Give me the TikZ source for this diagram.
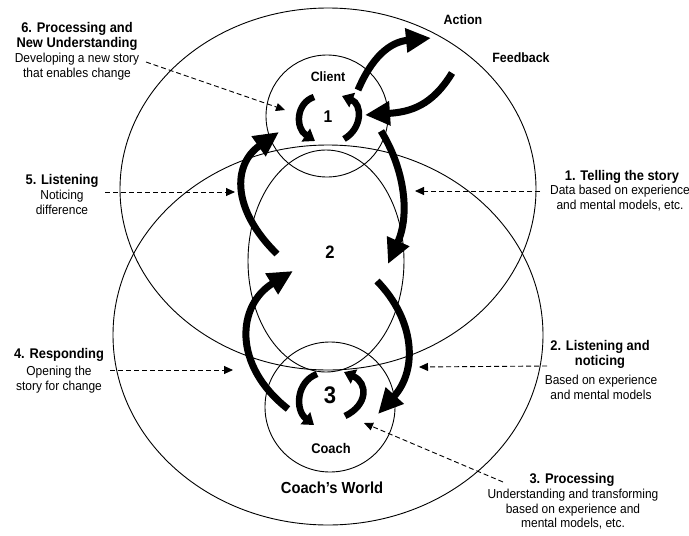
\documentclass[tikz,border=0pt]{standalone}
\usepackage{fontspec}
\setmainfont{Liberation Sans}[FakeStretch=0.92]
\usetikzlibrary{arrows.meta}
\begin{document}
\begin{tikzpicture}[x=1pt,y=-1pt,
  ring/.style={line width=0.9pt},
  flow/.style={line width=7pt, -{Triangle[length=25pt,width=23pt]}},
  spin/.style={line width=6.5pt, -{Triangle[length=11pt,width=15pt]}},
  hint/.style={line width=0.9pt, dash pattern=on 5pt off 3pt, -{Triangle[length=9pt,width=8pt]}},
  head/.style={font=\fontsize{14}{15.5}\selectfont\bfseries, align=center, inner sep=0pt, anchor=north},
  sub/.style={font=\fontsize{13}{14.5}\selectfont, align=center, inner sep=0pt, anchor=north},
  lbl/.style={font=\fontsize{13.5}{15}\selectfont\bfseries, inner sep=0pt, anchor=north},
  num/.style={inner sep=0pt}]
\fill[white] (0,0) rectangle (689,536);
\useasboundingbox (0,0) rectangle (689,536);

% worlds and circles
\draw[ring] (328,189) ellipse [x radius=208pt, y radius=181pt];
\draw[ring] (328,335) ellipse [x radius=215pt, y radius=190pt];
\draw[ring] (327,116) circle [radius=61pt];
\draw[ring] (326,261) ellipse [x radius=78pt, y radius=111pt];
\draw[ring] (330,407) circle [radius=65pt];

% numbers
\node[num, font=\fontsize{17}{17}\selectfont\bfseries] (n1) at (328,117) {1};
\node[num, font=\fontsize{18}{18}\selectfont\bfseries] (n2) at (330,252) {2};
\node[num, font=\fontsize{24}{24}\selectfont\bfseries] (n3) at (330,395) {3};

% labels inside
\node[lbl] (client) at (328,72) {Client};
\node[lbl] (action) at (463,15) {Action};
\node[lbl] (feedback) at (521,53) {Feedback};
\node[lbl, font=\fontsize{14}{15}\selectfont\bfseries] (coach) at (331,443) {Coach};
\node[lbl, font=\fontsize{16}{17}\selectfont\bfseries] (world) at (332,482) {Coach's World};

% side texts
\node[head] (h6) at (77,22) {6. Processing and\\New Understanding};
\node[sub] (s6) at (77,53) {Developing a new story\\that enables change};
\node[head] (h1) at (622,170) {1. Telling the story};
\node[sub] (s1) at (620,185) {Data based on experience\\and mental models, etc.};
\node[head] (h5) at (62,174) {5. Listening};
\node[sub] (s5) at (62,190) {Noticing\\difference};
\node[head] (h4) at (59,348) {4. Responding};
\node[sub] (s4) at (59,366) {Opening the\\story for change};
\node[head] (h2) at (600,340) {2. Listening and\\noticing};
\node[sub] (s2) at (601,375) {Based on experience\\and mental models};
\node[head] (h3) at (572,473) {3. Processing};
\node[sub] (s3) at (573,489) {Understanding and transforming\\based on experience and\\mental models, etc.};

% anchor points for connectors
\coordinate (actS) at (358,90);
\coordinate (actE) at (431,38);
\coordinate (fbS) at (452,73);
\coordinate (fbE) at (365,115);
\coordinate (r1S) at (381,131);
\coordinate (r1E) at (388,264);
\coordinate (l1S) at (277,254);
\coordinate (l1E) at (279,132);
\coordinate (l2S) at (288,409);
\coordinate (l2E) at (293,271);
\coordinate (r2S) at (377,281);
\coordinate (r2E) at (378,414);

% thick flow arrows
\draw[flow] (actS) .. controls (372,57) and (390,42) .. (actE);
\draw[flow] (fbS) .. controls (432,106) and (410,112) .. (fbE);
\draw[flow] (r1S) .. controls (405,170) and (410,215) .. (r1E);
\draw[flow] (l1S) .. controls (232,210) and (232,165) .. (l1E);
\draw[flow] (l2S) .. controls (232,365) and (237,305) .. (l2E);
\draw[flow] (r2S) .. controls (415,320) and (418,370) .. (r2E);

% spin arrows around 1 and 3
\coordinate (a1) at (314,97);  \coordinate (b1) at (315,141);
\coordinate (c1) at (344,139); \coordinate (e1) at (342,96);
\draw[spin] (a1) .. controls (296,103) and (295,128) .. (b1);
\draw[spin] (c1) .. controls (363,128) and (362,104) .. (e1);
\coordinate (a3) at (317,374); \coordinate (b3) at (314,425);
\coordinate (c3) at (345,416); \coordinate (e3) at (344,372);
\draw[spin] (a3) .. controls (296,382) and (295,410) .. (b3);
\draw[spin] (c3) .. controls (368,405) and (368,383) .. (e3);

% dashed pointers
\coordinate (d6S) at (146,62);  \coordinate (d6E) at (285,110);
\coordinate (d1S) at (540,191); \coordinate (d1E) at (415,191);
\coordinate (d5S) at (105,192); \coordinate (d5E) at (235,192);
\coordinate (d4S) at (110,370); \coordinate (d4E) at (233,370);
\coordinate (d2S) at (547,366); \coordinate (d2E) at (419,367);
\coordinate (d3S) at (503,482); \coordinate (d3E) at (364,423);
\draw[hint] (d6S) -- (d6E);
\draw[hint] (d1S) -- (d1E);
\draw[hint] (d5S) -- (d5E);
\draw[hint] (d4S) -- (d4E);
\draw[hint] (d2S) -- (d2E);
\draw[hint] (d3S) -- (d3E);
\end{tikzpicture}
\end{document}
